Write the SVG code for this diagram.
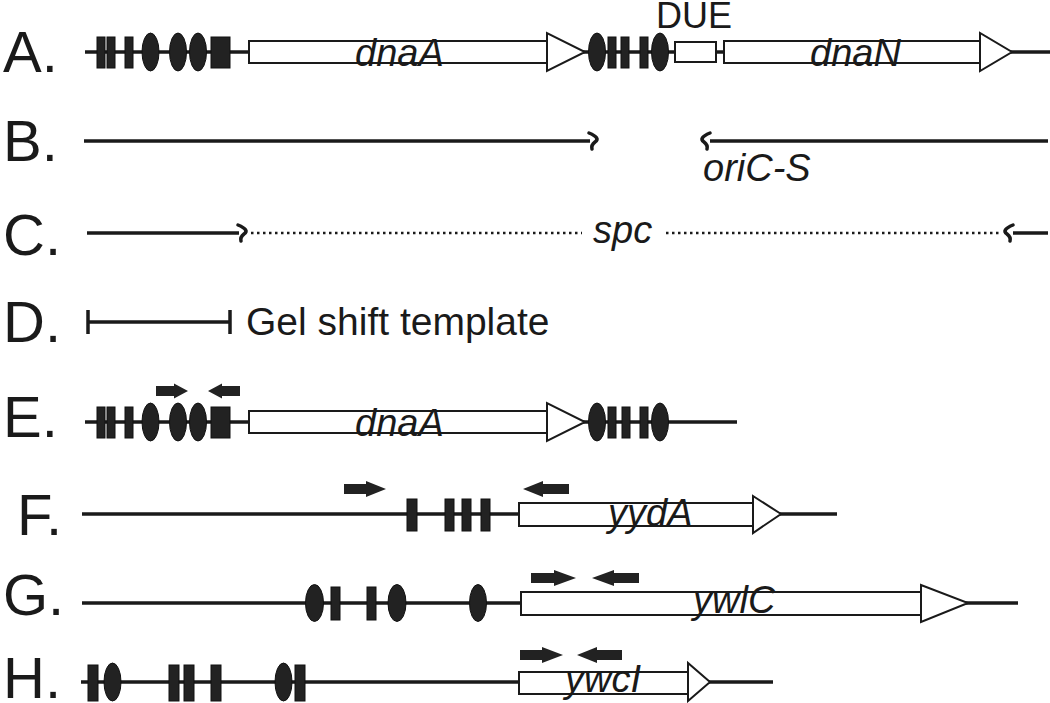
<svg xmlns="http://www.w3.org/2000/svg" xmlns:xlink="http://www.w3.org/1999/xlink" width="1050" height="703" viewBox="0 0 1050 703">
<defs>
<style>
.lbl{font-family:"Liberation Sans",Arial,sans-serif;font-size:58px;fill:#1a1a1a}
.gene{font-family:"Liberation Sans",Arial,sans-serif;font-size:38px;font-style:italic;fill:#1a1a1a}
.txt{font-family:"Liberation Sans",Arial,sans-serif;font-size:36px;fill:#1a1a1a}
.dna{stroke:#1a1a1a;stroke-width:3.5;fill:none}
.dot{stroke:#1a1a1a;stroke-width:2.5;stroke-dasharray:2.5 3.5;fill:none}
.box{fill:#fff;stroke:#1a1a1a;stroke-width:2}
.site{fill:#222;stroke:#111;stroke-width:1}
.primer{fill:#222}
.hook{stroke:#1a1a1a;stroke-width:3.5;fill:none;stroke-linecap:round}
</style>
<path id="hookR" class="hook" d="M -3 -8 Q 9 -3 3 1 Q -1 4 0 8"/>
<path id="hookL" class="hook" d="M 3 -8 Q -9 -3 -3 1 Q 1 4 0 8"/>
</defs>
<rect width="1050" height="703" fill="#fff"/>

<g id="row-labels">
<text class="lbl" x="3" y="72">A.</text>
<text class="lbl" x="3" y="161">B.</text>
<text class="lbl" x="3" y="255">C.</text>
<text class="lbl" x="3" y="342">D.</text>
<text class="lbl" x="3" y="437">E.</text>
<text class="lbl" x="17" y="535">F.</text>
<text class="lbl" x="3" y="615">G.</text>
<text class="lbl" x="3" y="698">H.</text>
</g>

<g id="connectors">
<line class="dna" x1="85" y1="52" x2="1050" y2="52"/>
<line class="dna" x1="84" y1="141" x2="590" y2="141"/>
<use xlink:href="#hookR" x="592" y="141"/>
<line class="dna" x1="710" y1="141" x2="1048" y2="141"/>
<use xlink:href="#hookL" x="707" y="141"/>
<line class="dna" x1="87" y1="233" x2="239" y2="233"/>
<use xlink:href="#hookR" x="241" y="233"/>
<line class="dot" x1="251" y1="233" x2="582" y2="233"/>
<line class="dot" x1="666" y1="233" x2="1002" y2="233"/>
<use xlink:href="#hookL" x="1010" y="233"/>
<line class="dna" x1="1013" y1="233" x2="1048" y2="233"/>
<line class="dna" x1="87" y1="322" x2="231" y2="322"/>
<line class="dna" x1="88" y1="310" x2="88" y2="334"/>
<line class="dna" x1="230" y1="310" x2="230" y2="334"/>
<line class="dna" x1="85" y1="422" x2="737" y2="422"/>
<line class="dna" x1="82" y1="514" x2="837" y2="514"/>
<line class="dna" x1="82" y1="603" x2="1018" y2="603"/>
<line class="dna" x1="81" y1="682" x2="773" y2="682"/>
</g>

<g id="rowA">
<rect class="site" x="97" y="37" width="8" height="31"/>
<rect class="site" x="107" y="37" width="8" height="31"/>
<rect class="site" x="125" y="37" width="8" height="31"/>
<ellipse class="site" cx="150.5" cy="52" rx="8.5" ry="19"/>
<ellipse class="site" cx="178" cy="52" rx="8.5" ry="19"/>
<ellipse class="site" cx="198" cy="52" rx="8.5" ry="19"/>
<rect class="site" x="211" y="37" width="19" height="31"/>
<rect class="box" x="249" y="41" width="298" height="22"/>
<polygon class="box" points="547,33 547,71 585,52"/>
<text class="gene" x="355" y="66">dnaA</text>
<ellipse class="site" cx="597" cy="52" rx="8.5" ry="19"/>
<rect class="site" x="608" y="37" width="8" height="31"/>
<rect class="site" x="621" y="37" width="8" height="31"/>
<rect class="site" x="640" y="37" width="8" height="31"/>
<ellipse class="site" cx="660" cy="52" rx="8.5" ry="19"/>
<rect class="box" x="675" y="42" width="41" height="20"/>
<text class="txt" x="656" y="28">DUE</text>
<rect class="box" x="724" y="41" width="256" height="22"/>
<polygon class="box" points="980,33 980,71 1012,52"/>
<text class="gene" x="810" y="66">dnaN</text>
</g>

<g id="rowB">
<text class="gene" x="703" y="181">oriC-S</text>
</g>

<g id="rowC">
<text class="gene" x="593" y="243">spc</text>
</g>

<g id="rowD">
<text class="txt" x="246" y="335" style="font-size:39px">Gel shift template</text>
</g>

<g id="rowE">
<rect class="site" x="97" y="407" width="8" height="31"/>
<rect class="site" x="107" y="407" width="8" height="31"/>
<rect class="site" x="125" y="407" width="8" height="31"/>
<ellipse class="site" cx="150.5" cy="422" rx="8.5" ry="19"/>
<ellipse class="site" cx="178" cy="422" rx="8.5" ry="19"/>
<ellipse class="site" cx="198" cy="422" rx="8.5" ry="19"/>
<rect class="site" x="211" y="407" width="19" height="31"/>
<polygon class="primer" points="156,386 174,386 174,383.5 188,391 174,398.5 174,396 156,396"/>
<polygon class="primer" points="240,386 222,386 222,383.5 208,391 222,398.5 222,396 240,396"/>
<rect class="box" x="249" y="411" width="298" height="22"/>
<polygon class="box" points="547,403 547,441 585,422"/>
<text class="gene" x="355" y="436">dnaA</text>
<ellipse class="site" cx="597" cy="422" rx="8.5" ry="19"/>
<rect class="site" x="608" y="407" width="8" height="31"/>
<rect class="site" x="622" y="407" width="8" height="31"/>
<rect class="site" x="640" y="407" width="8" height="31"/>
<ellipse class="site" cx="660" cy="422" rx="8.5" ry="19"/>
</g>

<g id="rowF">
<polygon class="primer" points="344,484 366,484 366,481 386,489 366,497 366,494 344,494"/>
<polygon class="primer" points="569,484 543,484 543,481 523,489 543,497 543,494 569,494"/>
<rect class="site" x="407" y="499" width="10" height="32"/>
<rect class="site" x="445" y="499" width="9" height="32"/>
<rect class="site" x="462" y="499" width="9" height="32"/>
<rect class="site" x="481" y="499" width="9" height="32"/>
<rect class="box" x="519" y="503" width="234" height="23"/>
<polygon class="box" points="753,496 753,533 781,514"/>
<text class="gene" x="608" y="526">yydA</text>
</g>

<g id="rowG">
<ellipse class="site" cx="314.5" cy="603" rx="9" ry="18.5"/>
<rect class="site" x="331" y="587" width="9" height="33"/>
<rect class="site" x="367" y="587" width="9" height="33"/>
<ellipse class="site" cx="397" cy="603" rx="9" ry="18.5"/>
<ellipse class="site" cx="478" cy="603" rx="8.5" ry="18.5"/>
<polygon class="primer" points="531,573 554,573 554,570 576,578 554,586 554,583 531,583"/>
<polygon class="primer" points="639,573 614,573 614,570 592,578 614,586 614,583 639,583"/>
<rect class="box" x="521" y="592" width="400" height="23"/>
<polygon class="box" points="921,585 921,622 968,603"/>
<text class="gene" x="693" y="613">ywlC</text>
</g>

<g id="rowH">
<rect class="site" x="88" y="665" width="10" height="36"/>
<ellipse class="site" cx="112.5" cy="682" rx="8.5" ry="19"/>
<rect class="site" x="169" y="665" width="10" height="36"/>
<rect class="site" x="184" y="665" width="10" height="36"/>
<rect class="site" x="211" y="665" width="10" height="36"/>
<ellipse class="site" cx="283.5" cy="682" rx="8.5" ry="19"/>
<rect class="site" x="295" y="665" width="10" height="36"/>
<polygon class="primer" points="520,650 542,650 542,647 563,655 542,663 542,660 520,660"/>
<polygon class="primer" points="622,650 597,650 597,647 577,655 597,663 597,660 622,660"/>
<rect class="box" x="519" y="672" width="169" height="22"/>
<polygon class="box" points="688,663 688,701 710,682"/>
<text class="gene" x="565" y="692">ywcI</text>
</g>
</svg>
